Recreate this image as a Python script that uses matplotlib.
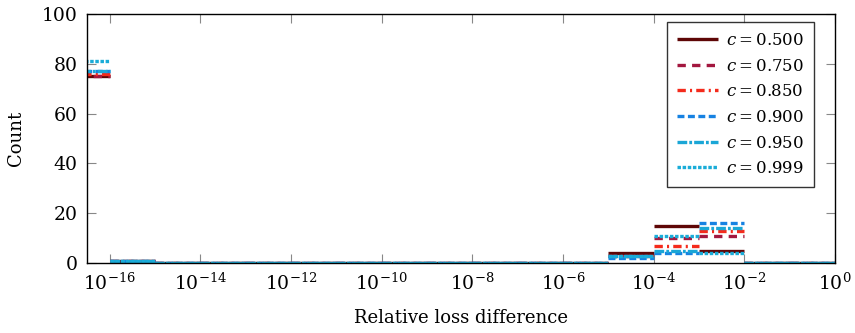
#!/usr/bin/env python3

import numpy as np
import matplotlib

matplotlib.use("Agg")
import matplotlib.pyplot as plt

# Data: histogram counts per log-decade bin (edges 1e-17 ... 1e0)
bin_exponents = np.arange(-17, 1)
labels = ["0.500", "0.750", "0.850", "0.900", "0.950", "0.999"]

#            -17 -16 -15 -14 -13 -12 -11 -10  -9  -8  -7  -6  -5  -4  -3  -2  -1
counts_500 = [75, 1, 0, 0, 0, 0, 0, 0, 0, 0, 0, 0, 4, 15, 5, 0, 0]
counts_750 = [75, 1, 0, 0, 0, 0, 0, 0, 0, 0, 0, 0, 3, 10, 11, 0, 0]
counts_850 = [76, 1, 0, 0, 0, 0, 0, 0, 0, 0, 0, 0, 3, 7, 13, 0, 0]
counts_900 = [77, 1, 0, 0, 0, 0, 0, 0, 0, 0, 0, 0, 2, 4, 16, 0, 0]
counts_950 = [77, 1, 0, 0, 0, 0, 0, 0, 0, 0, 0, 0, 3, 5, 14, 0, 0]
counts_999 = [81, 1, 0, 0, 0, 0, 0, 0, 0, 0, 0, 0, 3, 11, 4, 0, 0]
all_counts = [counts_500, counts_750, counts_850, counts_900, counts_950, counts_999]

colors = ["#5e0606", "#a3173f", "#f42b1c", "#1682e2", "#1aa6d6", "#1aacd8"]
dashes = [
    None,
    (6.0, 4.5),
    (6.0, 3.0, 1.5, 3.0),
    (5.0, 2.5),
    (7.0, 1.5, 2.0, 1.5),
    (2.5, 1.2),
]

plt.rcParams["font.family"] = ["DejaVu Serif"]
plt.rcParams["mathtext.fontset"] = "dejavuserif"
plt.rcParams["lines.scale_dashes"] = False

fig = plt.figure(figsize=(8.55, 3.33), dpi=100)
ax = fig.add_axes([0.1018, 0.2102, 0.8748, 0.7478])

edges = 10.0 ** bin_exponents
for lab, cnt, col, dsh in zip(labels, all_counts, colors, dashes):
    cnt = np.asarray(cnt, dtype=float)
    kw = dict(color=col, linewidth=2.4, solid_capstyle="butt", dash_capstyle="butt")
    lines = []
    for i in range(len(cnt)):
        (ln,) = ax.plot([edges[i], edges[i + 1]], [cnt[i], cnt[i]], **kw)
        lines.append(ln)
    if dsh is not None:
        for ln in lines:
            ln.set_dashes(dsh)
    lines[0].set_label(r"$c = {}$".format(lab))

ax.set_xscale("log")
ax.set_xlim(10 ** -16.5, 1)
ax.set_ylim(0, 100)
ax.set_xticks(10.0 ** np.arange(-16, 1, 2))
ax.xaxis.set_minor_locator(matplotlib.ticker.NullLocator())
ax.set_yticks(np.arange(0, 101, 20))

ax.tick_params(
    which="major",
    direction="in",
    length=6.5,
    width=0.8,
    color="#888888",
    top=True,
    right=True,
    labelsize=13.5,
    pad=7,
)
for s in ax.spines.values():
    s.set_linewidth(1.0)

ax.set_xlabel("Relative loss difference", fontsize=13, labelpad=11)
ax.set_ylabel("Count", fontsize=13, labelpad=12)

leg = ax.legend(
    loc="upper right",
    bbox_to_anchor=(0.972, 0.968),
    borderaxespad=0,
    fontsize=12,
    frameon=True,
    fancybox=False,
    edgecolor="black",
    handlelength=2.5,
    handletextpad=0.45,
    labelspacing=0.52,
    borderpad=0.6,
)
leg.get_frame().set_linewidth(1.0)

fig.savefig("out.png", dpi=100)
plt.close()
